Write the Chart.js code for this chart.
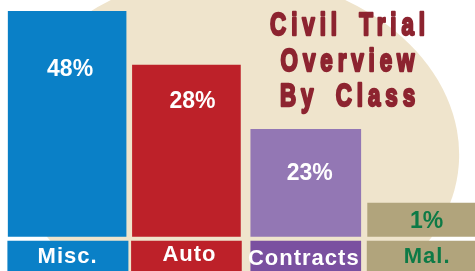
<!DOCTYPE html>
<html>
<head>
<meta charset="utf-8">
<script src="https://cdn.jsdelivr.net/npm/chart.js@4/dist/chart.umd.min.js"></script>
<style>
  html, body { margin: 0; padding: 0; background: #fff; overflow: hidden; }
  canvas { display: block; }
</style>
</head>
<body>
<canvas id="chart" width="485" height="271"></canvas>
<script>
// values
const categories = ["Misc.", "Auto", "Contracts", "Mal."];
const shares = [48, 28, 23, 1];             // printed percentages
const barHeights = [48, 36.5, 22.8, 7.1];   // drawn heights (not to scale with the %)
const tagSpan = [-0.96, -7.34];             // label box under each bar
const titleLines = ["Civil Trial", "Overview", "By Class"];

// styles
const barColors = ["#0a80c7", "#bd2129", "#9377b4", "#b1a47c"];
const tagColors = ["#0a80c7", "#bd2129", "#7a50a0", "#b1a47c"];
const textColors = ["#ffffff", "#ffffff", "#ffffff", "#0d7a46"];
const barWidths = [118, 108, 110, 115];
const tagWidths = [122, 110, 110, 116];
const pctOffset = [[3, 58.4], [6, 37], [4, 44.5], [1.5, 18.7]];
const tagOffset = [[0.5, 16.3], [3, 14.2], [-2, 17.8], [2, 16.2]];

const datasets = [];
categories.forEach((c, i) => {
  const only = v => categories.map((_, j) => (j === i ? v : null));
  datasets.push({
    label: c,
    data: only(barHeights[i]),
    backgroundColor: barColors[i],
    barThickness: barWidths[i],
  });
  datasets.push({
    label: c + " tag",
    data: only(tagSpan.slice()),
    backgroundColor: tagColors[i],
    barThickness: tagWidths[i],
  });
});

const backdrop = {
  id: "backdrop",
  beforeDraw(chart) {
    const ctx = chart.ctx;
    ctx.save();
    ctx.fillStyle = "#ffffff";
    ctx.fillRect(0, 0, chart.width, chart.height);
    ctx.fillStyle = "#efe4cc";
    ctx.beginPath();
    ctx.ellipse(235.2, 148.1, 224.2, 173.5, 0.0727, 0, Math.PI * 2);
    ctx.fill();
    ctx.restore();
  },
};

const labels = {
  id: "labels",
  afterDatasetsDraw(chart) {
    const ctx = chart.ctx;
    ctx.save();
    ctx.textAlign = "center";
    ctx.textBaseline = "middle";
    categories.forEach((c, i) => {
      const bar = chart.getDatasetMeta(i * 2).data[i];
      const tag = chart.getDatasetMeta(i * 2 + 1).data[i];
      ctx.fillStyle = textColors[i];

      ctx.font = 'bold 23px "Liberation Sans", Arial, sans-serif';
      ctx.letterSpacing = "0px";
      ctx.fillText(shares[i] + "%", bar.x + pctOffset[i][0], bar.y + pctOffset[i][1]);

      const top = Math.min(tag.y, tag.base);
      ctx.font = 'bold 22px "Liberation Sans", Arial, sans-serif';
      ctx.letterSpacing = "1px";
      ctx.fillText(c, tag.x + tagOffset[i][0], top + tagOffset[i][1]);
    });
    ctx.restore();
  },
};

const title = {
  id: "bigTitle",
  afterDraw(chart) {
    const ctx = chart.ctx;
    ctx.save();
    ctx.fillStyle = "#8d2430";
    ctx.strokeStyle = "#8d2430";
    ctx.lineWidth = 2.4;
    ctx.lineJoin = "round";
    ctx.font = 'bold 32px "Liberation Sans", Arial, sans-serif';
    ctx.textAlign = "center";
    ctx.textBaseline = "alphabetic";
    titleLines.forEach((t, k) => {
      ctx.save();
      ctx.translate(350, 35.2 + k * 35.6);
      ctx.scale(0.7, 1);
      ctx.letterSpacing = "7px";
      ctx.wordSpacing = "9px";
      ctx.fillText(t, 0, 0);
      ctx.strokeText(t, 0, 0);
      ctx.restore();
    });
    ctx.restore();
  },
};

new Chart(document.getElementById("chart"), {
  type: "bar",
  data: { labels: categories, datasets: datasets },
  options: {
    responsive: false,
    animation: false,
    layout: { padding: { left: 7.4, right: 0.2, top: 11, bottom: 0 } },
    datasets: { bar: { grouped: false, borderWidth: 0 } },
    scales: {
      x: { display: false },
      y: { display: false, min: -7.34, max: 48 },
    },
    plugins: {
      legend: { display: false },
      tooltip: { enabled: false },
      title: { display: false },
    },
  },
  plugins: [backdrop, labels, title],
});
</script>
</body>
</html>
